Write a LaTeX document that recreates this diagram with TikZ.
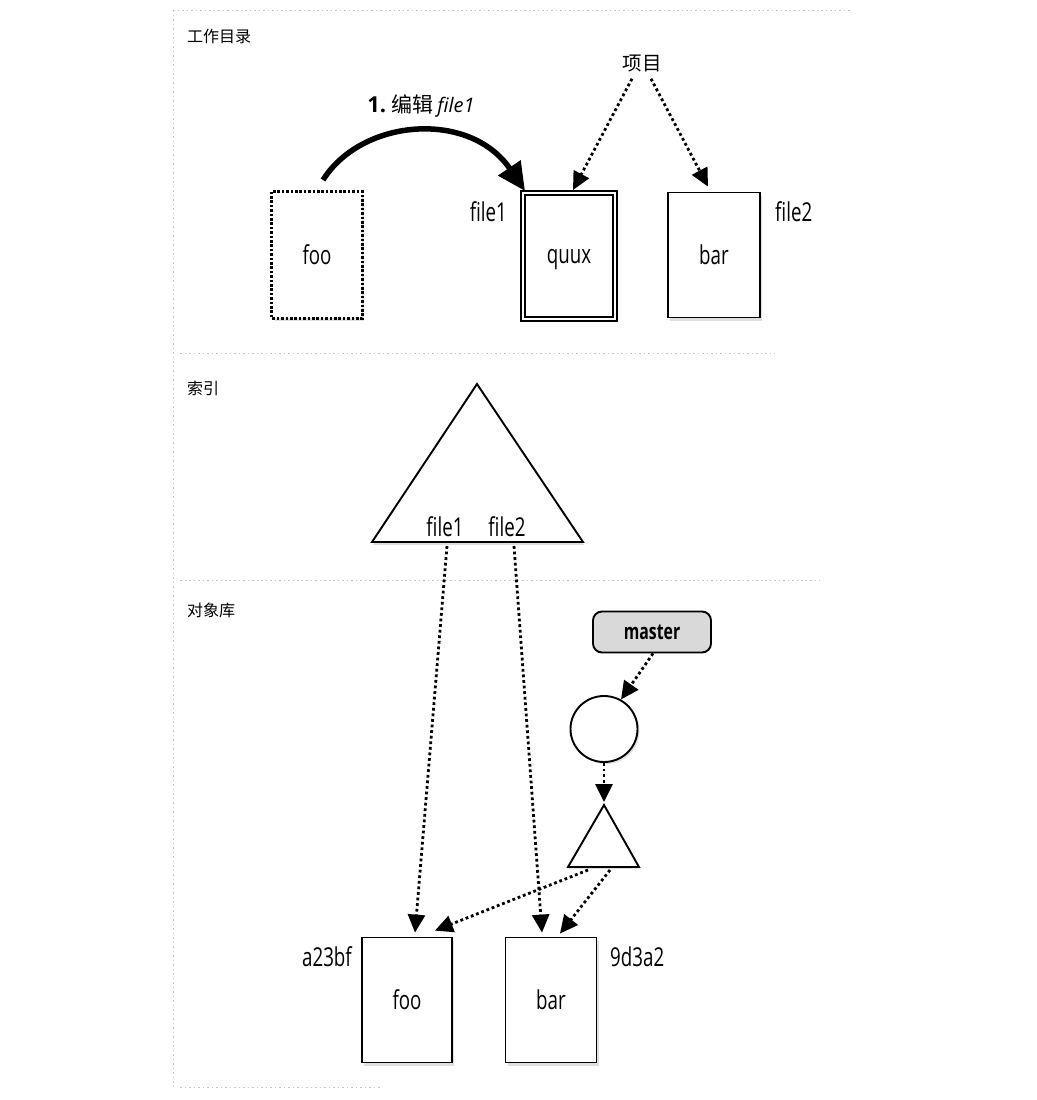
\documentclass[tikz,border=0pt]{standalone}
\usepackage{fontspec}
\setsansfont[FakeStretch=0.72]{Open Sans}
\newfontfamily\plainsans{Open Sans}
\newfontfamily\cjk{Noto Sans CJK SC}
\usetikzlibrary{arrows.meta,shapes.geometric,shadows}
\begin{document}
\begin{tikzpicture}[x=1pt,y=-1pt,
  lab/.style={font=\sffamily\fontsize{26}{28}\selectfont, inner sep=0pt},
  sect/.style={font=\cjk\fontsize{16}{18}\selectfont, inner sep=0pt, anchor=west},
  divider/.style={draw=gray!45, line width=1pt, dash pattern=on 1.5pt off 3pt},
  filebox/.style={draw, line width=1.8pt, fill=white, minimum width=90pt, minimum height=125pt, inner sep=0pt, lab,
    drop shadow={shadow xshift=2pt, shadow yshift=-3pt, opacity=.25}},
  dotarrow/.style={line width=2.8pt, dash pattern=on 2.8pt off 2.8pt, -{Triangle[length=18pt,width=17pt]}},
  shape3/.style={draw, line width=1.9pt, fill=white}
]
\useasboundingbox (0,0) rectangle (1036,1100);
% section frame
\draw[divider] (173,10) -- (850,10);
\draw[divider] (173,10) -- (173,1087);
\draw[divider] (180,353) -- (775,353);
\draw[divider] (180,580) -- (820,580);
\draw[divider] (180,1087) -- (380,1087);
% section titles
\node[sect] (s1) at (187,36) {工作目录};
\node[sect] (s2) at (187,388) {索引};
\node[sect] (s3) at (187,610) {对象库};

% working directory
\node[filebox, draw=none, minimum width=89pt, minimum height=125pt] (foo1) at (317,255) {foo};
\draw[line width=3.2pt, dash pattern=on 2.6pt off 1.8pt] (foo1.north west) rectangle (foo1.south east);
\node[filebox, double, double distance=2.2pt, line width=2pt, minimum width=92pt, minimum height=126pt, text depth=0pt] (quux) at (569,256) {quux};
\node[filebox, minimum width=92pt, minimum height=125pt] (bar1) at (714,255) {bar};
\node[lab, anchor=east] (f1) at (507,212) {file1};
\node[lab, anchor=west] (f2) at (775,212) {file2};
\node[font=\cjk\fontsize{19.5}{21}\selectfont, inner sep=1pt] (proj) at (642,64) {项目};
\draw[dotarrow] ([xshift=-10pt,yshift=-5pt]proj.south) -- ([xshift=4pt,yshift=2pt]quux.north);
\draw[dotarrow] ([xshift=9pt,yshift=-5pt]proj.south) -- ([xshift=-6pt,yshift=5pt]bar1.north);
\coordinate (estart) at (323,180);
\draw[line width=5.5pt, -{Triangle[length=28pt,width=26pt]}] (estart) .. controls (362,118) and (470,110) .. ([xshift=3pt,yshift=1pt]quux.north west);
\node[inner sep=0pt] (elabel) at (421,106) {\plainsans\bfseries\fontsize{22}{24}\selectfont 1.\ \cjk\mdseries\fontsize{21}{23}\selectfont 编辑\,\plainsans\mdseries\itshape\fontsize{20}{22}\selectfont file1};

% index
\draw[shape3, drop shadow={shadow xshift=1pt, shadow yshift=-3pt, opacity=.25}] (477,384) -- (583,542) -- (372,542) -- cycle;
\node[lab] (if1) at (445,527) {file1};
\node[lab] (if2) at (507,527) {file2};
\coordinate (ix1) at (447,546);
\coordinate (ix2) at (514,546);

% objects
\node[draw, line width=1.9pt, rounded corners=9pt, fill=gray!30, minimum width=118pt, minimum height=41pt, inner sep=0pt,
  font=\sffamily\bfseries\fontsize{22}{24}\selectfont] (master) at (652,632) {master};
\node[ellipse, shape3, minimum width=67pt, minimum height=66pt, inner sep=0pt,
  drop shadow={shadow xshift=2pt, shadow yshift=-2pt, opacity=.25}] (commit) at (604,729) {};
\draw[shape3, drop shadow={shadow xshift=1pt, shadow yshift=-2pt, opacity=.25}] (604,805) -- (639,867) -- (568,867) -- cycle;
\coordinate (tapex) at (604,802);
\coordinate (tr1) at (588,870);
\coordinate (tr2) at (610,870);
\node[filebox] (foo2) at (407,1000) {foo};
\node[filebox, minimum width=91pt] (bar2) at (551,1000) {bar};
\node[lab, anchor=east] (h1) at (352,957) {a23bf};
\node[lab, anchor=west] (h2) at (610,957) {9d3a2};

\draw[dotarrow] ([xshift=1pt]master.south) -- (commit.60);
\draw[dotarrow] (commit.south) -- (tapex);
\draw[dotarrow] (ix1) -- ([xshift=8pt,yshift=4pt]foo2.north);
\draw[dotarrow] (ix2) -- ([xshift=-9pt,yshift=4pt]bar2.north);
\draw[dotarrow] (tr1) -- ([xshift=-18pt,yshift=6pt]foo2.north east);
\draw[dotarrow] (tr2) -- ([xshift=9pt,yshift=3pt]bar2.north);
\end{tikzpicture}
\end{document}
